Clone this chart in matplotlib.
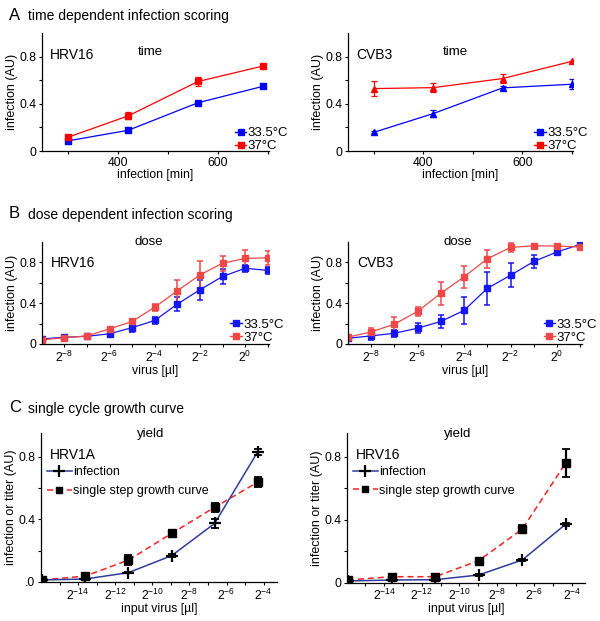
import numpy as np
import matplotlib
matplotlib.use("Agg")
import matplotlib.pyplot as plt
from matplotlib.lines import Line2D
from matplotlib.ticker import FixedLocator

plt.rcParams['font.family'] = ['Liberation Sans', 'DejaVu Sans']
plt.rcParams['mathtext.fontset'] = 'custom'
plt.rcParams['mathtext.rm'] = 'Liberation Sans'
plt.rcParams['mathtext.it'] = 'Liberation Sans'
plt.rcParams['mathtext.default'] = 'regular'

# ---------------- data ----------------
# Panel A: time dependent
time_hrv16 = [300, 420, 560, 690]
hrv16_t_335 = [0.086, 0.175, 0.409, 0.548]
hrv16_t_335_err = [0.008, 0.008, 0.01, 0.01]
hrv16_t_37 = [0.117, 0.297, 0.589, 0.720]
hrv16_t_37_err = [0.015, 0.03, 0.04, 0.02]

time_cvb3 = [300, 420, 560, 700]
cvb3_t_335 = [0.158, 0.317, 0.535, 0.566]
cvb3_t_335_err = [0.008, 0.03, 0.02, 0.04]
cvb3_t_37 = [0.529, 0.537, 0.614, 0.760]
cvb3_t_37_err = [0.064, 0.04, 0.04, 0.005]

# Panel B: dose dependent (virus in ul, powers of two)
dose_exp = [-9, -8, -7, -6, -5, -4, -3, -2, -1, 0, 1]
hrv16_d_335 = [0.049, 0.066, 0.075, 0.10, 0.16, 0.23, 0.39, 0.53, 0.66, 0.74, 0.72]
hrv16_d_335_err = [0.02, 0.02, 0.01, 0.02, 0.04, 0.035, 0.07, 0.10, 0.075, 0.035, 0.035]
hrv16_d_37 = [0.040, 0.062, 0.079, 0.148, 0.22, 0.36, 0.52, 0.675, 0.79, 0.836, 0.843]
hrv16_d_37_err = [0.01, 0.01, 0.01, 0.01, 0.015, 0.035, 0.105, 0.14, 0.075, 0.08, 0.07]

cvb3_d_335 = [0.056, 0.079, 0.105, 0.154, 0.22, 0.328, 0.544, 0.672, 0.807, 0.90, 0.974]
cvb3_d_335_err = [0.01, 0.036, 0.036, 0.05, 0.062, 0.13, 0.16, 0.118, 0.06, 0.028, 0.01]
cvb3_d_37 = [0.066, 0.118, 0.193, 0.318, 0.495, 0.656, 0.833, 0.944, 0.960, 0.957, 0.948]
cvb3_d_37_err = [0.01, 0.04, 0.07, 0.048, 0.11, 0.107, 0.087, 0.044, 0.01, 0.01, 0.01]

# Panel C: single cycle growth curve
input_virus = [1.6e-5, 8e-5, 4e-4, 2e-3, 1e-2, 5e-2]
hrv1a_inf = [0.013, 0.019, 0.060, 0.168, 0.374, 0.832]
hrv1a_inf_err = [0.005, 0.005, 0.005, 0.008, 0.03, 0.02]
hrv1a_grow = [0.013, 0.038, 0.140, 0.310, 0.477, 0.638]
hrv1a_grow_err = [0.008, 0.02, 0.03, 0.02, 0.03, 0.032]

hrv16_inf = [0.011, 0.017, 0.019, 0.049, 0.144, 0.372]
hrv16_inf_err = [0.004, 0.004, 0.004, 0.006, 0.008, 0.01]
hrv16_grow = [0.017, 0.038, 0.038, 0.140, 0.340, 0.760]
hrv16_grow_err = [0.008, 0.02, 0.017, 0.008, 0.025, 0.088]

# ---------------- figure ----------------
W, H = 600, 621
fig = plt.figure(figsize=(6.0, 6.21), dpi=100)


def add_ax(x0, x1, y0, y1):
    return fig.add_axes([x0 / W, (H - y1) / H, (x1 - x0) / W, (y1 - y0) / H])


def style(ax, ylabel, xlabel):
    for s in ['top', 'right']:
        ax.spines[s].set_visible(False)
    for s in ['left', 'bottom']:
        ax.spines[s].set_linewidth(0.9)
    ax.tick_params(which='both', direction='out', length=2.5, width=0.8,
                   labelsize=8.8, pad=1.5)
    ax.set_ylabel(ylabel, fontsize=9, labelpad=1)
    ax.set_xlabel(xlabel, fontsize=8.8, labelpad=0)


def yticks(ax, labels=('0', '0.4', '0.8')):
    ax.set_yticks([0, 0.4, 0.8])
    ax.set_yticklabels(list(labels))
    ax.yaxis.set_minor_locator(FixedLocator([0.2, 0.6]))


BLUE = '#0000ff'
RED = '#ff0000'
BLUE_B = '#1515f5'
RED_B = '#f04848'
NAVY = '#2e3c9c'


def temp_legend(ax, cb, cr, anchor):
    h = [Line2D([], [], color=cb, marker='s', ms=4, lw=1),
         Line2D([], [], color=cr, marker='s', ms=4, lw=1)]
    ax.legend(h, ['33.5°C', '37°C'], loc='lower right', bbox_to_anchor=anchor,
              frameon=False, fontsize=9.5, handlelength=0.9, handletextpad=0.1,
              labelspacing=0.05, borderpad=0, borderaxespad=0)


# Panel headings
fig.text(9 / W, 1 - 15 / H, 'A', fontsize=12, va='center', ha='left')
fig.text(28 / W, 1 - 16 / H, 'time dependent infection scoring', fontsize=10, va='center', ha='left')
fig.text(9 / W, 1 - 214 / H, 'B', fontsize=12, va='center', ha='left')
fig.text(28 / W, 1 - 215 / H, 'dose dependent infection scoring', fontsize=10, va='center', ha='left')
fig.text(9 / W, 1 - 408 / H, 'C', fontsize=12, va='center', ha='left')
fig.text(28 / W, 1 - 409 / H, 'single cycle growth curve', fontsize=10, va='center', ha='left')

# ---- Panel A ----
for (x0, x1, tx, name, b, be, r, re, mk, anc) in [
        (42, 269, time_hrv16, 'HRV16', hrv16_t_335, hrv16_t_335_err, hrv16_t_37, hrv16_t_37_err, 's', (1.085, -0.01)),
        (348, 573, time_cvb3, 'CVB3', cvb3_t_335, cvb3_t_335_err, cvb3_t_37, cvb3_t_37_err, '^', (1.065, -0.01))]:
    ax = add_ax(x0, x1, 33, 151)
    ax.errorbar(tx, b, yerr=be, color=BLUE, marker=mk, ms=3.8, lw=0.9,
                capsize=2.2, elinewidth=0.9, capthick=0.9)
    ax.errorbar(tx, r, yerr=re, color=RED, marker=mk, ms=3.8, lw=0.9,
                capsize=2.2, elinewidth=0.9, capthick=0.9)
    ax.set_xlim(248, 702)
    ax.set_ylim(0, 1.0)
    ax.set_xticks([400, 600])
    ax.xaxis.set_minor_locator(FixedLocator([300, 500, 700]))
    yticks(ax)
    style(ax, 'infection (AU)', 'infection [min]')
    ax.text(0.476, 0.84, 'time', transform=ax.transAxes, fontsize=9.5, ha='center', va='center')
    ax.text(0.035, 0.81, name, transform=ax.transAxes, fontsize=10, ha='left', va='center')
    temp_legend(ax, BLUE, RED, anc)

# ---- Panel B ----
dose_x = 2.0 ** np.array(dose_exp, dtype=float)
for (x0, x1, name, b, be, r, re, anc) in [
        (41.7, 269.3, 'HRV16', hrv16_d_335, hrv16_d_335_err, hrv16_d_37, hrv16_d_37_err, (1.065, 0.0)),
        (347.7, 582, 'CVB3', cvb3_d_335, cvb3_d_335_err, cvb3_d_37, cvb3_d_37_err, (1.065, 0.0))]:
    ax = add_ax(x0, x1, 241.7, 344)
    ax.set_xscale('log', base=2)
    ax.errorbar(dose_x, b, yerr=be, color=BLUE_B, marker='s', ms=4.5, lw=0.9,
                capsize=2.5, elinewidth=1.1, capthick=1.1)
    ax.errorbar(dose_x, r, yerr=re, color=RED_B, marker='s', ms=4.5, lw=0.9,
                capsize=2.5, elinewidth=1.1, capthick=1.1)
    ax.set_xlim(2 ** -9, 2 ** 1.07)
    ax.set_ylim(0, 1.0)
    maj = [-8, -6, -4, -2, 0]
    ax.set_xticks([2.0 ** e for e in maj])
    ax.set_xticklabels([r'$2^{%d}$' % e for e in maj])
    ax.xaxis.set_minor_locator(FixedLocator([2.0 ** e for e in [-7, -5, -3, -1, 1]]))
    ax.xaxis.set_minor_formatter(plt.NullFormatter())
    yticks(ax)
    style(ax, 'infection (AU)', 'virus [µl]')
    ax.text(0.47, 1.0, 'dose', transform=ax.transAxes, fontsize=9.5, ha='center', va='center')
    ax.text(0.04, 0.795, name, transform=ax.transAxes, fontsize=10, ha='left', va='center')
    temp_legend(ax, BLUE_B, RED_B, anc)

# ---- Panel C ----
for (x0, x1, y0, y1, name, inf, infe, gr, gre, zero) in [
        (41, 276.7, 433.3, 582, 'HRV1A', hrv1a_inf, hrv1a_inf_err, hrv1a_grow, hrv1a_grow_err, '.0'),
        (346.7, 585, 433, 582.7, 'HRV16', hrv16_inf, hrv16_inf_err, hrv16_grow, hrv16_grow_err, '0')]:
    ax = add_ax(x0, x1, y0, y1)
    ax.set_xscale('log', base=2)
    ax.plot(input_virus, gr, color='#ff2020', ls=(0, (4, 2.5)), lw=1.1, zorder=2)
    ax.errorbar(input_virus, gr, yerr=gre, fmt='none', ecolor='black',
                capsize=3, elinewidth=1.6, capthick=1.3, zorder=3)
    ax.plot(input_virus, gr, ls='none', marker='s', ms=5.5, color='black', zorder=4)
    ax.plot(input_virus, inf, color=NAVY, lw=1.1, zorder=2)
    ax.errorbar(input_virus, inf, yerr=infe, fmt='none', ecolor='black',
                capsize=3, elinewidth=1.3, capthick=1.3, zorder=3)
    ax.plot(input_virus, inf, ls='none', marker='+', ms=8, mew=1.6, color='black', zorder=4)
    ax.set_xlim(2 ** -16, 2 ** -3.3)
    ax.set_ylim(0, 0.95)
    maj = [-14, -12, -10, -8, -6, -4]
    ax.set_xticks([2.0 ** e for e in maj])
    ax.set_xticklabels([r'$2^{%d}$' % e for e in maj])
    ax.xaxis.set_minor_locator(FixedLocator([2.0 ** e for e in [-15, -13, -11, -9, -7, -5]]))
    ax.xaxis.set_minor_formatter(plt.NullFormatter())
    yticks(ax, (zero, '0.4', '0.8'))
    style(ax, 'infection or titer (AU)', 'input virus [µl]')
    ax.text(0.465, 0.995, 'yield', transform=ax.transAxes, fontsize=9.5, ha='center', va='center')
    ax.text(0.037, 0.855, name, transform=ax.transAxes, fontsize=10, ha='left', va='center')
    h = [Line2D([], [], color=NAVY, lw=1.1, marker='+', ms=8, mew=1.6, mec='black'),
         Line2D([], [], color='#ff2020', ls=(0, (4, 2.5)), lw=1.1, marker='s', ms=5, mec='black', mfc='black')]
    ax.legend(h, ['infection', 'single step growth curve'], loc='upper left',
              bbox_to_anchor=(0.025, 0.78), frameon=False, fontsize=9,
              handlelength=2.0, handletextpad=0.1, labelspacing=0.55,
              borderpad=0, borderaxespad=0)

fig.savefig('out.png', dpi=100)
